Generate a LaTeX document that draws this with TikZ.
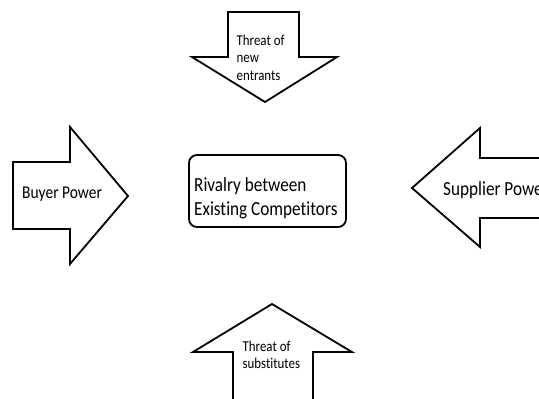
\documentclass[tikz,border=0pt]{standalone}
\usepackage{fontspec}
\setmainfont{Carlito}[Ligatures=NoCommon]
\begin{document}
\begin{tikzpicture}[x=1pt, y=-1pt,
    force/.style={draw=black, line width=1.8pt, fill=white, line join=miter},
    label/.style={inner sep=0pt, anchor=base west, align=left, xscale=0.86, transform shape},
    biglabel/.style={label, font=\fontsize{20}{23.3}\selectfont},
    sidelabel/.style={label, font=\fontsize{18}{22}\selectfont},
    smalllabel/.style={label, font=\fontsize{15}{17.5}\selectfont}]

    % 1. Fix the page and cut off what runs past it
    \useasboundingbox (0,0) rectangle (539,399);
    \clip (0,0) rectangle (539,399);

    % 2. The four force arrows
    % Threat of new entrants (pointing down)
    \draw[force] (228,12) -- (299,12) -- (299,57) -- (337,57) -- (265,102)
        -- (192,57) -- (228,57) -- cycle;
    % Buyer power (pointing right)
    \draw[force] (13,162) -- (70,162) -- (70,127) -- (128,196) -- (70,264)
        -- (70,229) -- (13,229) -- cycle;
    % Supplier power (pointing left, runs off the page)
    \draw[force] (412,188) -- (480,128) -- (480,158) -- (560,158) -- (560,218)
        -- (480,218) -- (480,247) -- cycle;
    % Threat of substitutes (pointing up, runs off the page)
    \draw[force] (272,304) -- (352,352) -- (313,352) -- (313,420) -- (233,420)
        -- (233,352) -- (193,352) -- cycle;

    % 3. Central box and its text (base = last line)
    \node[draw, line width=1.8pt, rounded corners=8pt, minimum width=157pt,
          minimum height=72pt, inner sep=0pt] (rivalry) at (267.5,191) {};
    \node[biglabel] (rivalrytext) at (194,215)
        {Rivalry between\\Existing Competitors};

    % 4. Labels on the arrows
    \node[smalllabel] (entrants) at (236.5,80) {Threat of\\new\\entrants};
    \node[sidelabel] (buyer) at (22,198.3) {Buyer Power};
    \node[biglabel] (supplier) at (443,195) {Supplier Power};
    \node[smalllabel, font=\fontsize{15}{16.7}\selectfont] (substitutes) at (242.5,368.3)
        {Threat of\\substitutes};

\end{tikzpicture}
\end{document}
